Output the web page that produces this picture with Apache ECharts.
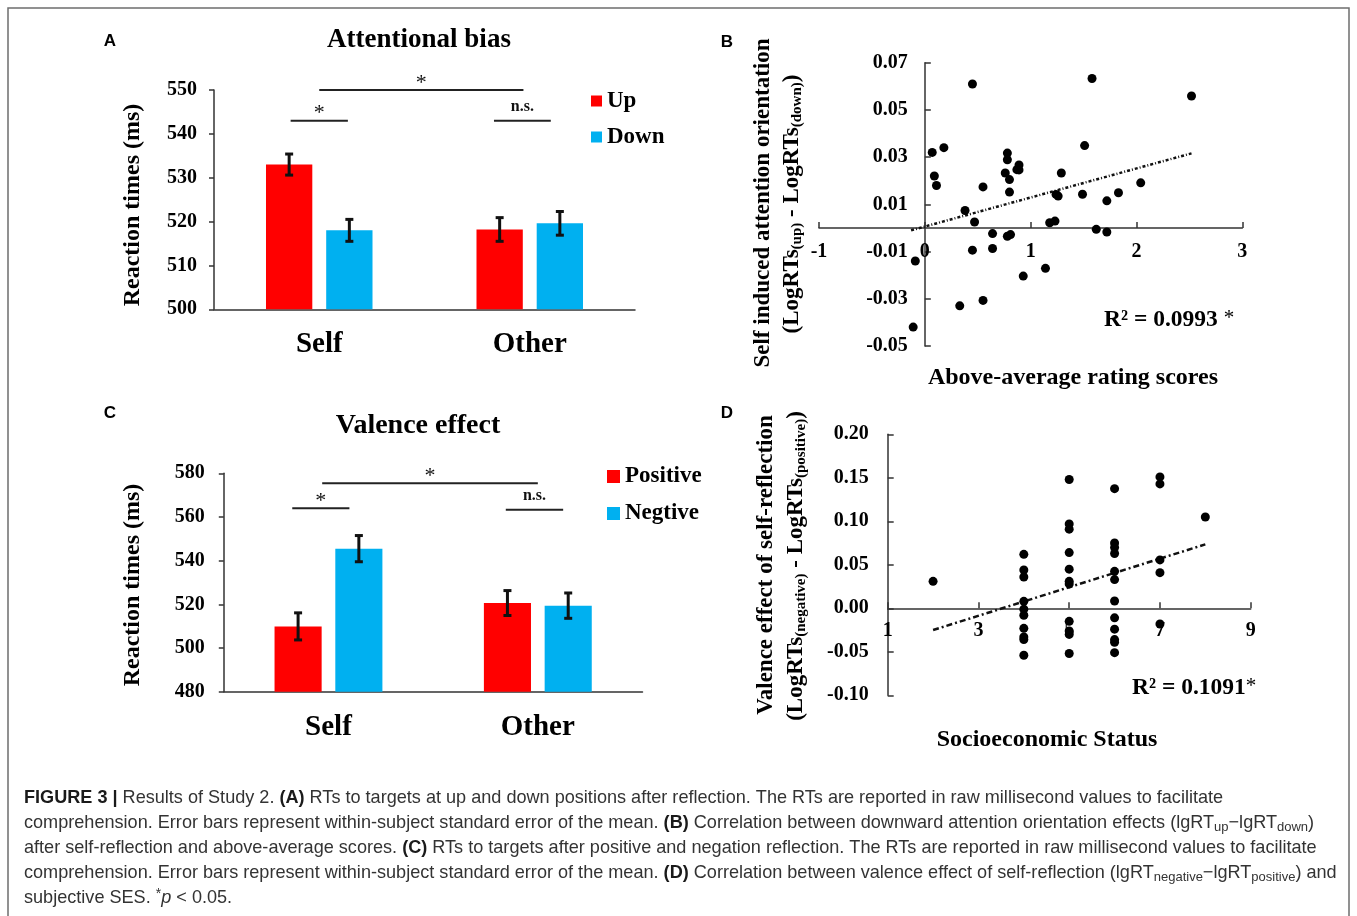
<!DOCTYPE html>
<html><head><meta charset="utf-8">
<script src="https://cdn.jsdelivr.net/npm/echarts@6/dist/echarts.min.js"></script>
<style>html,body{margin:0;padding:0;background:#fff}#c{width:1357px;height:916px}</style>
</head><body><div id="c"></div>
<script>
// ---------- DATA ----------
const categories = ['Self', 'Other'];
// Panel A: Attentional bias
const namesA = ['Up', 'Down'];
const upA = [533.0, 518.2];
const upErrA = [2.4, 2.7];
const downA = [518.0, 519.6];
const downErrA = [2.5, 2.7];
// Panel C: Valence effect
const namesC = ['Positive', 'Negtive'];
const posC = [509.9, 520.6];
const posErrC = [6.2, 5.7];
const negC = [545.5, 519.4];
const negErrC = [6.0, 5.8];
// Significance comparisons (category position, value level)
const bracketsA = [
  {from: 0, to: 0.97, y: 550, text: '*'},
  {from: -0.136, to: 0.136, y: 543, text: '*'},
  {from: 0.83, to: 1.10, y: 543, text: 'n.s.'}
];
const bracketsC = [
  {from: -0.03, to: 1.0, y: 575.4, text: '*'},
  {from: -0.173, to: 0.10, y: 564, text: '*'},
  {from: 0.847, to: 1.121, y: 563.3, text: 'n.s.'}
];
// Panel B: scatter
const bX = [-0.11, -0.09, 0.07, 0.09, 0.11, 0.18, 0.33, 0.38, 0.45, 0.47, 0.45, 0.55, 0.55, 0.64, 0.64, 0.76, 0.78, 0.78, 0.80, 0.80, 0.78, 0.81, 0.89, 0.87, 0.89, 0.93, 1.14, 1.18, 1.23, 1.24, 1.26, 1.29, 1.49, 1.51, 1.58, 1.62, 1.72, 1.72, 1.83, 2.04, 2.52];
const bY = [-0.042, -0.014, 0.032, 0.022, 0.018, 0.034, -0.033, 0.0074, 0.061, 0.0025, -0.0094, 0.0174, -0.0307, -0.0024, -0.0087, 0.0233, 0.0317, 0.0289, 0.0205, 0.0152, -0.0035, -0.0028, 0.0267, 0.0247, 0.0246, -0.0204, -0.0171, 0.0022, 0.0029, 0.0142, 0.0135, 0.0233, 0.0143, 0.0349, 0.0633, -0.0006, 0.0115, -0.0017, 0.0149, 0.0191, 0.0559];
const trendB = [[-0.13, -0.001], [2.52, 0.0316]];
const bXRange = [-1, 3];
const bYRange = [-0.05, 0.07];
const bXTicks = [-1, 0, 1, 2, 3];
const bYTicks = [-0.05, -0.03, -0.01, 0.01, 0.03, 0.05, 0.07];
// Panel D: scatter
const dX = [2, 4, 4, 4, 4, 4, 4, 4, 4, 4, 4, 5, 5, 5, 5, 5, 5, 5, 5, 5, 5, 5, 6, 6, 6, 6, 6, 6, 6, 6, 6, 6, 6, 6, 7, 7, 7, 7, 7, 8];
const dY = [0.031, 0.062, 0.044, 0.036, 0.008, -0.001, -0.008, -0.023, -0.033, -0.036, -0.054, 0.148, 0.097, 0.091, 0.064, 0.045, 0.031, 0.028, -0.015, -0.026, -0.030, -0.052, 0.1375, 0.075, 0.070, 0.063, 0.0425, 0.033, 0.0084, -0.011, -0.024, -0.036, -0.039, -0.051, 0.151, 0.143, 0.0556, 0.041, -0.018, 0.105];
const trendD = [[2, -0.025], [8, 0.0735]];
const dXRange = [1, 9];
const dYRange = [-0.10, 0.20];
const dXTicks = [1, 3, 5, 7, 9];
const dYTicks = [-0.10, -0.05, 0, 0.05, 0.10, 0.15, 0.20];
const r2B = 'R² = 0.0993';
const r2D = 'R² = 0.1091';
const captionLines = [
  '{b|FIGURE 3 |} Results of Study 2. {b|(A)} RTs to targets at up and down positions after reflection. The RTs are reported in raw millisecond values to facilitate',
  'comprehension. Error bars represent within-subject standard error of the mean. {b|(B)} Correlation between downward attention orientation effects (lgRT{sub|up}\u2212lgRT{sub|down})',
  'after self-reflection and above-average scores. {b|(C)} RTs to targets after positive and negation reflection. The RTs are reported in raw millisecond values to facilitate',
  'comprehension. Error bars represent within-subject standard error of the mean. {b|(D)} Correlation between valence effect of self-reflection (lgRT{sub|negative}\u2212lgRT{sub|positive}) and',
  'subjective SES. {sup|*}{i|p} < 0.05.'
];

// ---------- STYLE / LAYOUT ----------
const SERIF = '"Liberation Serif", "Times New Roman", serif';
const SANS = '"Liberation Sans", Arial, sans-serif';
const RED = '#FF0000', BLUE = '#00B0F0';
const axisLineStyle = {color: '#333', width: 1.5};
const BW_A = 0.22, GAP_A = 0.30, BW_C = 0.225, GAP_C = 0.29;
const gridB = {left: 819, top: 62.7, width: 423.3, height: 283.3};
const gridD = {left: 887.7, top: 434.3, width: 363, height: 261};
// place axes of B and D through the origin (axis offset from grid edge)
const bYAxisOffset = -gridB.width * (0 - bXRange[0]) / (bXRange[1] - bXRange[0]);
const bXAxisOffset = -gridB.height * (0 - bYRange[0]) / (bYRange[1] - bYRange[0]);
const dXAxisOffset = -gridD.height * (0 - dYRange[0]) / (dYRange[1] - dYRange[0]);

function errRender(sign, bw, gap) {
  return function (params, api) {
    const c = api.value(0), m = api.value(1), e = api.value(2);
    const band = api.size([1, 0])[0];
    const cx = api.coord([c, m])[0] + sign * band * bw * (1 + gap) / 2;
    const yt = api.coord([c, m + e])[1], yb = api.coord([c, m - e])[1];
    const hw = 4, st = {stroke: '#111', lineWidth: 3};
    return {type: 'group', children: [
      {type: 'line', shape: {x1: cx, y1: yt, x2: cx, y2: yb}, style: st},
      {type: 'line', shape: {x1: cx - hw, y1: yt, x2: cx + hw, y2: yt}, style: st},
      {type: 'line', shape: {x1: cx - hw, y1: yb, x2: cx + hw, y2: yb}, style: st}
    ]};
  };
}
function bracketRender(list) {
  return function (params, api) {
    const b = list[params.dataIndex];
    const band = api.size([1, 0])[0];
    const p = api.coord([0, b.y]);
    const x0 = p[0] + b.from * band, x1 = p[0] + b.to * band, y = p[1];
    const star = b.text === '*';
    return {type: 'group', children: [
      {type: 'line', shape: {x1: x0, y1: y, x2: x1, y2: y}, style: {stroke: '#222', lineWidth: 2}},
      {type: 'text', style: {text: b.text, x: (x0 + x1) / 2, y: y - (star ? 7 : 13.5), align: 'center', verticalAlign: 'middle',
        fontFamily: SERIF, fontSize: star ? 22 : 16, fontWeight: star ? 'normal' : 'bold', fill: '#111'}}
    ]};
  };
}
function catX(grid) {
  return {gridIndex: grid, type: 'category', data: categories,
    axisLine: {lineStyle: axisLineStyle}, axisTick: {inside: true, length: 8, lineStyle: axisLineStyle},
    axisLabel: {margin: 21, fontSize: 29, fontWeight: 'bold', fontFamily: SERIF, color: '#000'}, splitLine: {show: false}};
}
function valY(grid, min, max, interval, margin) {
  return {gridIndex: grid, type: 'value', min: min, max: max, interval: interval,
    axisLine: {show: true, lineStyle: axisLineStyle}, axisTick: {show: true, length: 5, lineStyle: axisLineStyle},
    axisLabel: {margin: margin, fontSize: 20, fontWeight: 'bold', fontFamily: SERIF, color: '#000'}, splitLine: {show: false}};
}
const tickLbl = {fontSize: 20, fontWeight: 'bold', fontFamily: SERIF, color: '#000'};

const chart = echarts.init(document.getElementById('c'), null, {renderer: 'canvas'});
const option = {
  animation: false,
  backgroundColor: '#fff',
  grid: [
    {left: 214, top: 90, width: 421, height: 219.3},
    gridB,
    {left: 223.8, top: 473.3, width: 418.7, height: 218.4},
    gridD
  ],
  xAxis: [
    catX(0),
    {gridIndex: 1, type: 'value', min: bXRange[0], max: bXRange[1], offset: bXAxisOffset,
      axisLine: {onZero: false, lineStyle: axisLineStyle},
      axisTick: {inside: true, length: 6, lineStyle: axisLineStyle, customValues: bXTicks},
      axisLabel: Object.assign({margin: 14, customValues: bXTicks}, tickLbl), splitLine: {show: false}},
    catX(2),
    {gridIndex: 3, type: 'value', min: dXRange[0], max: dXRange[1], offset: dXAxisOffset,
      axisLine: {onZero: false, lineStyle: axisLineStyle},
      axisTick: {inside: true, length: 6, lineStyle: axisLineStyle, customValues: dXTicks},
      axisLabel: Object.assign({margin: 13, customValues: dXTicks}, tickLbl), splitLine: {show: false}}
  ],
  yAxis: [
    valY(0, 500, 550, 10, 17),
    {gridIndex: 1, type: 'value', min: bYRange[0], max: bYRange[1], offset: bYAxisOffset,
      axisLine: {onZero: false, lineStyle: axisLineStyle},
      axisTick: {inside: true, length: 6, lineStyle: axisLineStyle, customValues: bYTicks},
      axisLabel: Object.assign({margin: 17, customValues: bYTicks, formatter: v => v.toFixed(2)}, tickLbl), splitLine: {show: false}},
    valY(2, 480, 580, 20, 19),
    {gridIndex: 3, type: 'value', min: dYRange[0], max: dYRange[1],
      axisLine: {onZero: false, lineStyle: axisLineStyle},
      axisTick: {inside: true, length: 6, lineStyle: axisLineStyle, customValues: dYTicks},
      axisLabel: Object.assign({margin: 19, customValues: dYTicks, formatter: v => v.toFixed(2)}, tickLbl), splitLine: {show: false}}
  ],
  legend: [
    {data: namesA, left: 591, top: 89.5, orient: 'vertical', itemWidth: 11, itemHeight: 11, itemGap: 13, padding: 0, icon: 'rect',
      textStyle: {fontFamily: SERIF, fontWeight: 'bold', fontSize: 23, lineHeight: 23, color: '#000'}},
    {data: namesC, left: 607, top: 465, orient: 'vertical', itemWidth: 13, itemHeight: 13, itemGap: 14, padding: 0, icon: 'rect',
      textStyle: {fontFamily: SERIF, fontWeight: 'bold', fontSize: 23, lineHeight: 23, color: '#000'}}
  ],
  series: [
    {type: 'bar', name: namesA[0], xAxisIndex: 0, yAxisIndex: 0, data: upA, barWidth: (BW_A * 100) + '%', barGap: (GAP_A * 100) + '%', itemStyle: {color: RED}},
    {type: 'bar', name: namesA[1], xAxisIndex: 0, yAxisIndex: 0, data: downA, barWidth: (BW_A * 100) + '%', barGap: (GAP_A * 100) + '%', itemStyle: {color: BLUE}},
    {type: 'custom', xAxisIndex: 0, yAxisIndex: 0, z: 5, renderItem: errRender(-1, BW_A, GAP_A), data: upA.map((v, i) => [i, v, upErrA[i]])},
    {type: 'custom', xAxisIndex: 0, yAxisIndex: 0, z: 5, renderItem: errRender(1, BW_A, GAP_A), data: downA.map((v, i) => [i, v, downErrA[i]])},
    {type: 'custom', xAxisIndex: 0, yAxisIndex: 0, z: 5, renderItem: bracketRender(bracketsA), data: bracketsA.map(b => [0, b.y])},

    {type: 'bar', name: namesC[0], xAxisIndex: 2, yAxisIndex: 2, data: posC, barWidth: (BW_C * 100) + '%', barGap: (GAP_C * 100) + '%', itemStyle: {color: RED}},
    {type: 'bar', name: namesC[1], xAxisIndex: 2, yAxisIndex: 2, data: negC, barWidth: (BW_C * 100) + '%', barGap: (GAP_C * 100) + '%', itemStyle: {color: BLUE}},
    {type: 'custom', xAxisIndex: 2, yAxisIndex: 2, z: 5, renderItem: errRender(-1, BW_C, GAP_C), data: posC.map((v, i) => [i, v, posErrC[i]])},
    {type: 'custom', xAxisIndex: 2, yAxisIndex: 2, z: 5, renderItem: errRender(1, BW_C, GAP_C), data: negC.map((v, i) => [i, v, negErrC[i]])},
    {type: 'custom', xAxisIndex: 2, yAxisIndex: 2, z: 5, renderItem: bracketRender(bracketsC), data: bracketsC.map(b => [0, b.y])},

    {type: 'line', xAxisIndex: 1, yAxisIndex: 1, data: trendB, symbol: 'none', lineStyle: {color: '#111', width: 2.5, type: [3, 2, 1, 2]}, z: 3},
    {type: 'scatter', xAxisIndex: 1, yAxisIndex: 1, data: bX.map((x, i) => [x, bY[i]]), symbolSize: 9, itemStyle: {color: '#000', opacity: 1}, z: 4},
    {type: 'line', xAxisIndex: 3, yAxisIndex: 3, data: trendD, symbol: 'none', lineStyle: {color: '#111', width: 2.5, type: [6, 3, 2, 3]}, z: 3},
    {type: 'scatter', xAxisIndex: 3, yAxisIndex: 3, data: dX.map((x, i) => [x, dY[i]]), symbolSize: 9, itemStyle: {color: '#000', opacity: 1}, z: 4}
  ],
  graphic: []
};

const G = option.graphic;
G.push({type: 'rect', shape: {x: 8, y: 8, width: 1341, height: 1000}, style: {fill: 'none', stroke: '#6e6e6e', lineWidth: 1.5}, silent: true});
function txt(x, y, text, font, extra) {
  G.push(Object.assign({type: 'text', x: x, y: y, silent: true,
    style: Object.assign({text: text, align: 'center', verticalAlign: 'middle', fill: '#000'}, font)}, extra || {}));
}
const letterFont = {fontFamily: SANS, fontWeight: 'bold', fontSize: 17};
txt(110, 41, 'A', letterFont); txt(727, 42, 'B', letterFont);
txt(110, 413, 'C', letterFont); txt(727, 413, 'D', letterFont);
txt(419, 40, 'Attentional bias', {fontFamily: SERIF, fontWeight: 'bold', fontSize: 27});
txt(418, 426, 'Valence effect', {fontFamily: SERIF, fontWeight: 'bold', fontSize: 28});
const yTitleFont = {fontFamily: SERIF, fontWeight: 'bold', fontSize: 24};
txt(133, 205, 'Reaction times (ms)', yTitleFont, {rotation: Math.PI / 2});
txt(133, 585, 'Reaction times (ms)', yTitleFont, {rotation: Math.PI / 2});
const sciFont = {fontFamily: SERIF, fontWeight: 'bold', fontSize: 23, lineHeight: 26,
  rich: {s: {fontFamily: SERIF, fontWeight: 'bold', fontSize: 15, lineHeight: 12, verticalAlign: 'bottom', fill: '#000'}}};
txt(763, 203, 'Self induced attention orientation', {fontFamily: SERIF, fontWeight: 'bold', fontSize: 23}, {rotation: Math.PI / 2});
txt(792, 204, '(LogRTs{s|(up)} - LogRTs{s|(down)})', sciFont, {rotation: Math.PI / 2});
txt(766, 565, 'Valence effect of self-reflection', {fontFamily: SERIF, fontWeight: 'bold', fontSize: 23}, {rotation: Math.PI / 2});
txt(796, 566, '(LogRTs{s|(negative)} - LogRTs{s|(positive)})', sciFont, {rotation: Math.PI / 2});
txt(1073, 378, 'Above-average rating scores', {fontFamily: SERIF, fontWeight: 'bold', fontSize: 24});
txt(1047, 740, 'Socioeconomic Status', {fontFamily: SERIF, fontWeight: 'bold', fontSize: 24});
const r2Font = {fontFamily: SERIF, fontWeight: 'bold', fontSize: 23.5, lineHeight: 24, align: 'left',
  rich: {s: {fontFamily: SERIF, fontWeight: 'normal', fontSize: 21, lineHeight: 14, verticalAlign: 'top', fill: '#000'}}};
txt(1104, 320, r2B + ' {s|*}', r2Font);
txt(1132, 688, r2D + '{s|*}', r2Font);
const CAP = 18.1;
const capFont = {fontFamily: SANS, fontSize: CAP, lineHeight: 22, fill: '#333', align: 'left',
  rich: {
    b: {fontFamily: SANS, fontWeight: 'bold', fontSize: CAP, lineHeight: 22, fill: '#1a1a1a'},
    sub: {fontFamily: SANS, fontSize: 13, lineHeight: 11, verticalAlign: 'bottom', fill: '#333'},
    sup: {fontFamily: SANS, fontSize: 14, lineHeight: 13, verticalAlign: 'top', fill: '#333'},
    i: {fontFamily: SANS, fontStyle: 'italic', fontSize: CAP, lineHeight: 22, fill: '#333'}
  }};
captionLines.forEach((line, k) => txt(24, 798 + 25 * k, line, capFont));

chart.setOption(option);
</script></body></html>
